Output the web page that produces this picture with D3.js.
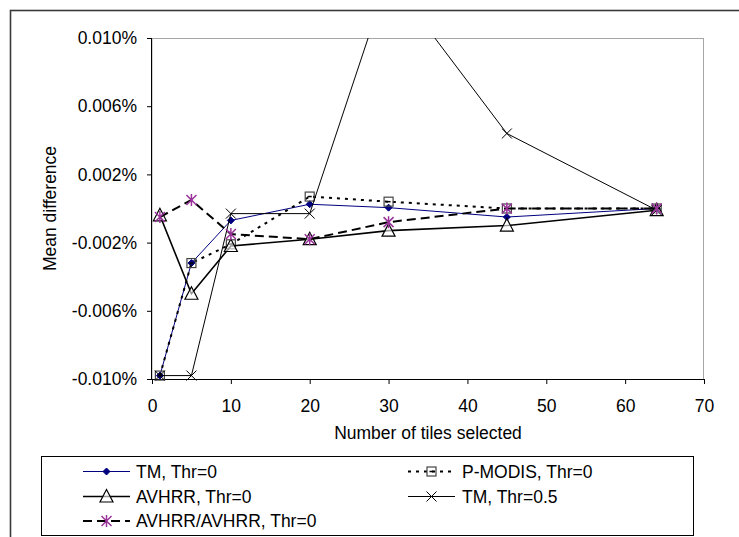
<!DOCTYPE html>
<html>
<head>
<meta charset="utf-8">
<script src="https://cdn.jsdelivr.net/npm/d3@7"></script>
<style>
  html, body { margin: 0; padding: 0; background: #fff; }
  svg { display: block; }
  text { font-family: "Liberation Sans", Arial, sans-serif; fill: #000; }
</style>
</head>
<body>
<script>
// ---- data ----
const tiles = [1, 5, 10, 20, 30, 45, 64];
const tmThr0      = [-0.0098, -0.0032, -0.0007, 0.00025, 0.00005, -0.0005, 0.0];
const pModisThr0  = [-0.0098, -0.0032, -0.0021, 0.0007, 0.0004, 0.0, 0.0];
const avhrrThr0   = [-0.0004, -0.0050, -0.0022, -0.0018, -0.0013, -0.0010, -0.0001];
const tmThr05     = [-0.0098, -0.0098, -0.0003, -0.0003, 0.0136, 0.0044, -0.0001];
const avhrrAvhrr  = [-0.0005, 0.0005, -0.0015, -0.0018, -0.0008, 0.0, 0.0];
const seriesNames = ["TM, Thr=0", "P-MODIS, Thr=0", "AVHRR, Thr=0", "TM, Thr=0.5", "AVHRR/AVHRR, Thr=0"];
const yTicks = [-0.010, -0.006, -0.002, 0.002, 0.006, 0.010];
const xTicks = [0, 10, 20, 30, 40, 50, 60, 70];
const xTitle = "Number of tiles selected";
const yTitle = "Mean difference";

// ---- layout ----
const W = 739, H = 537;
const plot = { left: 152, right: 704, top: 38, bottom: 379 };
const FS = 17.5;

const svg = d3.select("body").append("svg").attr("width", W).attr("height", H);

// outer chart border
svg.append("rect").attr("x", 10.5).attr("y", 10.5).attr("width", 760).attr("height", 560)
  .attr("fill", "none").attr("stroke", "#3a3a3a").attr("stroke-width", 1.6);

const x = d3.scaleLinear().domain([0, 70]).range([plot.left, plot.right]);
const y = d3.scaleLinear().domain([-0.010, 0.010]).range([plot.bottom, plot.top]);

// plot area frame (top/right gray)
svg.append("rect").attr("x", plot.left).attr("y", plot.top + 0.5)
  .attr("width", plot.right - plot.left - 0.5).attr("height", plot.bottom - plot.top)
  .attr("fill", "none").attr("stroke", "#a6a6a6").attr("stroke-width", 1);

// axes
const yAxis = d3.axisLeft(y).tickValues(yTicks).tickSize(5).tickPadding(10)
  .tickFormat(d => (d3.format(".3f")(d) + "%").replace("\u2212", "-"));
const gy = svg.append("g").attr("transform", `translate(${plot.left},0)`).call(yAxis);
const xAxis = d3.axisBottom(x).tickValues(xTicks).tickSize(5).tickPadding(16)
  .tickFormat(d3.format("d"));
const gx = svg.append("g").attr("transform", `translate(0,${plot.bottom})`).call(xAxis);
[gx, gy].forEach(g => {
  g.attr("font-size", FS).attr("font-family", "Liberation Sans, Arial, sans-serif");
  g.select(".domain").attr("stroke", "#000").attr("stroke-width", 1);
  g.selectAll(".tick line").attr("stroke", "#000");
  g.selectAll("text").attr("font-size", FS).attr("fill", "#000");
});
gx.select(".domain").attr("d", `M${plot.left},0.5H${plot.right}`);
gy.select(".domain").attr("d", `M-0.5,${plot.bottom}V${plot.top}`);

// axis titles
svg.append("text").attr("x", (plot.left + plot.right) / 2).attr("y", 439)
  .attr("text-anchor", "middle").attr("font-size", FS).text(xTitle);
svg.append("text").attr("transform", `translate(56,${(plot.top + plot.bottom) / 2}) rotate(-90)`)
  .attr("text-anchor", "middle").attr("font-size", FS).text(yTitle);

// clip
svg.append("clipPath").attr("id", "clip").append("rect")
  .attr("x", plot.left - 10).attr("y", plot.top).attr("width", plot.right - plot.left + 20)
  .attr("height", plot.bottom - plot.top + 10);

// marker drawing
function marker(g, type, cx, cy) {
  if (type === "diamond") {
    g.append("path").attr("d", `M${cx},${cy-3.5}L${cx+3.5},${cy}L${cx},${cy+3.5}L${cx-3.5},${cy}Z`)
      .attr("fill", "#000080").attr("stroke", "#000080").attr("stroke-width", 1);
  } else if (type === "square") {
    g.append("rect").attr("x", cx - 4.5).attr("y", cy - 4.5).attr("width", 9).attr("height", 9)
      .attr("fill", "none").attr("stroke", "#444").attr("stroke-width", 1.2);
    g.append("path").attr("d", `M${cx-2},${cy}H${cx+2}`).attr("stroke", "#000").attr("stroke-width", 1.5);
  } else if (type === "triangle") {
    g.append("path").attr("d", `M${cx},${cy-7}L${cx+6.5},${cy+5.5}L${cx-6.5},${cy+5.5}Z`)
      .attr("fill", "#fff").attr("fill-opacity", 0.6).attr("stroke", "#000").attr("stroke-width", 1.2);
  } else if (type === "x") {
    g.append("path").attr("d", `M${cx-5},${cy-5}L${cx+5},${cy+5}M${cx-5},${cy+5}L${cx+5},${cy-5}`)
      .attr("stroke", "#000").attr("stroke-width", 1);
  } else if (type === "star") {
    g.append("path").attr("d", `M${cx-5},${cy-5}L${cx+5},${cy+5}M${cx-5},${cy+5}L${cx+5},${cy-5}M${cx},${cy-6}V${cy+6}`)
      .attr("stroke", "#993399").attr("stroke-width", 1.5);
  }
}

const series = [
  { name: seriesNames[0], vals: tmThr0, color: "#000080", width: 1, dash: null, mark: "diamond" },
  { name: seriesNames[1], vals: pModisThr0, color: "#000", width: 2, dash: "3,5", cap: "butt", mark: "square" },
  { name: seriesNames[2], vals: avhrrThr0, color: "#000", width: 1.6, dash: null, mark: "triangle" },
  { name: seriesNames[3], vals: tmThr05, color: "#000", width: 1, dash: null, mark: "x" },
  { name: seriesNames[4], vals: avhrrAvhrr, color: "#000", width: 2, dash: "9,5", mark: "star" },
];

const line = d3.line().x(d => x(d[0])).y(d => y(d[1]));
const plotG = svg.append("g").attr("clip-path", "url(#clip)");
series.forEach(s => {
  const pts = tiles.map((t, i) => [t, s.vals[i]]);
  plotG.append("path").attr("d", line(pts)).attr("fill", "none")
    .attr("stroke", s.color).attr("stroke-width", s.width)
    .attr("stroke-dasharray", s.dash).attr("stroke-linecap", s.cap || "butt");
  const mg = plotG.append("g");
  pts.forEach(p => { if (p[1] <= 0.010) marker(mg, s.mark, x(p[0]), y(p[1])); });
});

// legend
const lg = svg.append("g");
lg.append("rect").attr("x", 41.5).attr("y", 456.5).attr("width", 652).attr("height", 79)
  .attr("fill", "#fff").attr("stroke", "#000").attr("stroke-width", 1);
const legPos = [
  { sx: 83, tx: 136, y: 471.5 },
  { sx: 408, tx: 462, y: 471.5 },
  { sx: 83, tx: 136, y: 496.5 },
  { sx: 408, tx: 462, y: 496.5 },
  { sx: 83, tx: 136, y: 521 },
];
series.forEach((s, i) => {
  const p = legPos[i];
  lg.append("path").attr("d", `M${p.sx},${p.y}H${p.sx + 47}`).attr("fill", "none")
    .attr("stroke", s.color).attr("stroke-width", s.width)
    .attr("stroke-dasharray", s.dash);
  marker(lg, s.mark, p.sx + 23.5, p.y);
  lg.append("text").attr("x", p.tx).attr("y", p.y + 6).attr("font-size", FS).text(s.name);
});
</script>
</body>
</html>
